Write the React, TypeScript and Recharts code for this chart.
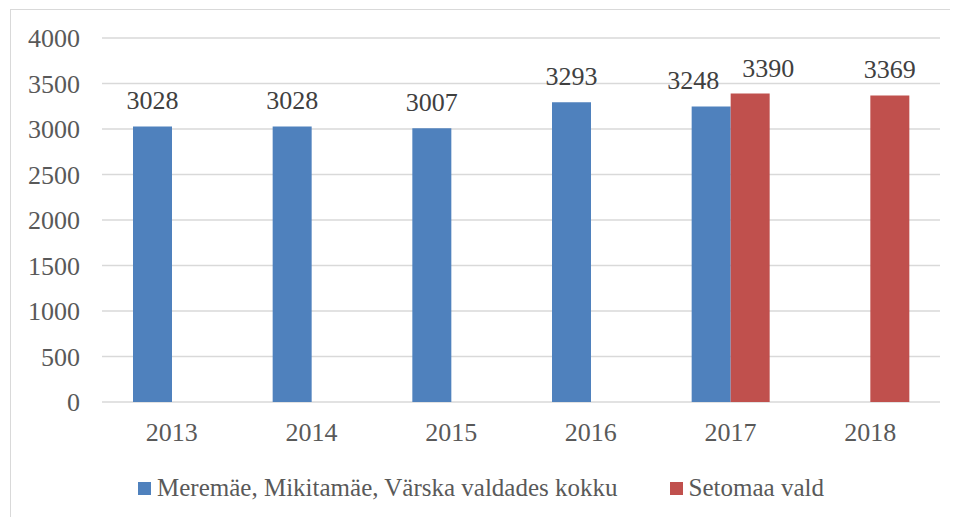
import { BarChart, Bar, XAxis, YAxis, CartesianGrid, Legend, LabelList } from "recharts";

const years = ["2013", "2014", "2015", "2016", "2017", "2018"];
const oldParishes = [3028, 3028, 3007, 3293, 3248, null];
const setomaa = [null, null, null, null, 3390, 3369];
const yTicks = [0, 500, 1000, 1500, 2000, 2500, 3000, 3500, 4000];

const seriesNames = ["Meremäe, Mikitamäe, Värska valdades kokku", "Setomaa vald"];
const BLUE = "#4f81bd";
const RED = "#c0504d";
const TEXT = "#595959";
const FONT = "'Liberation Serif', serif";

const data = years.map((y, i) => ({ year: y, a: oldParishes[i], b: setomaa[i] }));

function LegendBox({ payload }: any) {
  return (
    <div style={{ display: "flex", justifyContent: "center", alignItems: "center", gap: 52, height: 30, fontFamily: FONT, fontSize: 25, color: TEXT }}>
      {(payload || []).map((p: any) => (
        <div key={p.value} style={{ display: "flex", alignItems: "center" }}>
          <span style={{ width: 13, height: 13, background: p.color, display: "inline-block", marginRight: 6 }} />
          <span>{p.value}</span>
        </div>
      ))}
    </div>
  );
}

// nudges a label sideways when both bars of a year carry a value, so they don't collide
function makeLabel(series: (number | null)[], side: number) {
  return (props: any) => {
    const { x, y, width, value } = props;
    if (value == null) return null;
    const i = series.indexOf(value);
    const both = oldParishes[i] != null && setomaa[i] != null;
    const cx = x + width / 2 + (both ? side * 18 : 0);
    return (
      <text x={cx} y={y - 17} textAnchor="middle" fill="#404040" fontSize={26} fontFamily={FONT}>
        {value}
      </text>
    );
  };
}

export default function App() {
  return (
    <div style={{ marginLeft: 2, marginTop: 1, width: 960, height: 520, border: "1px solid #d9d9d9", background: "#fff" }}>
      <BarChart width={948} height={507} data={data} margin={{ top: 28, right: 19, left: 11, bottom: 14 }} barGap={0} barSize={39}>
        <CartesianGrid vertical={false} stroke="#d9d9d9" strokeWidth={1.5} />
        <XAxis
          dataKey="year"
          axisLine={false}
          tickLine={false}
          height={71}
          tickMargin={15}
          tick={{ fill: TEXT, fontSize: 26, fontFamily: FONT }}
        />
        <YAxis
          width={80}
          domain={[0, 4000]}
          ticks={yTicks}
          axisLine={false}
          tickLine={false}
          tickMargin={16}
          tick={{ fill: TEXT, fontSize: 26, fontFamily: FONT }}
        />
        <Legend verticalAlign="bottom" content={<LegendBox />} />
        <Bar dataKey="a" name={seriesNames[0]} fill={BLUE} isAnimationActive={false}>
          <LabelList dataKey="a" content={makeLabel(oldParishes, -1)} />
        </Bar>
        <Bar dataKey="b" name={seriesNames[1]} fill={RED} isAnimationActive={false}>
          <LabelList dataKey="b" content={makeLabel(setomaa, 1)} />
        </Bar>
      </BarChart>
    </div>
  );
}
